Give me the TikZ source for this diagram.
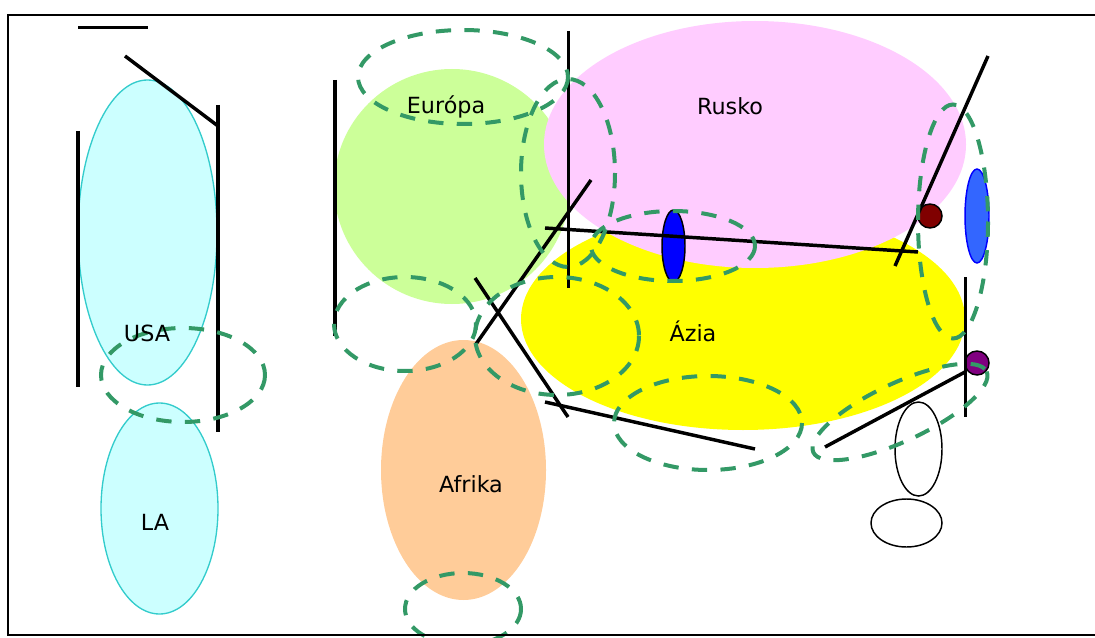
\documentclass[tikz,border=0pt]{standalone}
\usepackage{fontspec}
\setmainfont{DejaVu Sans}
\definecolor{dgreen}{RGB}{51,153,102}
\definecolor{pureyellow}{RGB}{255,255,0}
\definecolor{lgreen}{RGB}{204,255,153}
\definecolor{lpink}{RGB}{255,204,255}
\definecolor{lorange}{RGB}{255,204,153}
\definecolor{lcyan}{RGB}{204,255,255}
\definecolor{dcyan}{RGB}{51,204,204}
\definecolor{pureblue}{RGB}{0,0,255}
\definecolor{midblue}{RGB}{51,102,255}
\definecolor{dred}{RGB}{128,0,0}
\definecolor{dpurple}{RGB}{128,0,128}
\tikzset{
  wall/.style={draw=black,line width=2.6pt},
  zone/.style={draw=dgreen,line width=3pt,dash pattern=on 11.5pt off 10pt},
  dot/.style={draw=black,line width=1.1pt},
  iso/.style={draw=dcyan,fill=lcyan,line width=1pt},
  lbl/.style={font=\fontsize{16.7pt}{20pt}\selectfont,text=black,inner sep=0pt}
}
\begin{document}
\begin{tikzpicture}[x=0.75pt,y=-0.75pt]
\useasboundingbox (0,0) rectangle (1095,638);
\begin{scope}
\clip (0,0) rectangle (1095,638);
% regions
\fill[pureyellow] (743,319) ellipse (222 and 111);
\fill[lgreen] (452,186.5) ellipse (118 and 117.5);
\fill[lpink] (755,144.5) ellipse (211 and 123.5);
\fill[lorange] (463.5,470) ellipse (82.5 and 130);
\path[iso] (147.5,232.5) ellipse (69.5 and 152.5);
\path[iso] (159.5,508.5) ellipse (58.5 and 105.5);
% small shapes
\path[dot,fill=pureblue] (673.5,246) ellipse (11.5 and 36);
\path[draw=pureblue,line width=1.1pt,fill=midblue] (977,216) ellipse (12 and 47);
\path[dot,fill=dred] (930,216) ellipse (12 and 12);
\path[dot,fill=dpurple] (977,363) ellipse (12 and 12);
\path[dot,fill=white] (918.5,449) ellipse (23.5 and 47);
\path[dot,fill=white] (906.5,523) ellipse (35.5 and 24);
% walls
\draw[wall] (78,27.5) -- (148,27.5);
\draw[wall] (125,56) -- (218,126);
\draw[wall] (218,105) -- (218,432);
\draw[wall] (78,131) -- (78,387);
\draw[wall] (335,80) -- (335,336);
\draw[wall] (568.5,31) -- (568.5,288);
\draw[wall] (591,180) -- (476,344);
\draw[wall] (475,278) -- (568,417);
\draw[wall] (545,228) -- (918,252);
\draw[wall] (988,56) -- (895,266);
\draw[wall] (965.5,277) -- (965.5,417);
\draw[wall] (825,447) -- (965,372);
\draw[wall] (545,402) -- (755,449);
% dashed zones
\draw[zone] (463,77) ellipse (105 and 47);
\draw[zone] (568,173) ellipse (47 and 94);
\draw[zone] (673,246) ellipse (82 and 35);
\draw[zone] (953,221.5) ellipse (35 and 117);
\draw[zone] (405,324) ellipse (71 and 47);
\draw[zone] (557,336) ellipse (82 and 59);
\draw[zone] (708,423) ellipse (94 and 47);
\draw[zone,rotate around={25:(900,412)}] (900,412) ellipse (95.6 and 29);
\draw[zone] (183,375) ellipse (82 and 47);
\draw[zone] (463,609) ellipse (58 and 36);
% frame
\draw[black,line width=1.6pt] (1100,15) -- (8,15) -- (8,635) -- (1100,635);
\end{scope}
% labels
\node[lbl] (eu) at (446,107) {Európa};
\node[lbl] (ru) at (730,106) {Rusko};
\node[lbl] (as) at (693,331) {Ázia};
\node[lbl] (af) at (471,484.5) {Afrika};
\node[lbl] (us) at (147,333) {USA};
\node[lbl] (la) at (155,522) {LA};
\end{tikzpicture}
\end{document}
